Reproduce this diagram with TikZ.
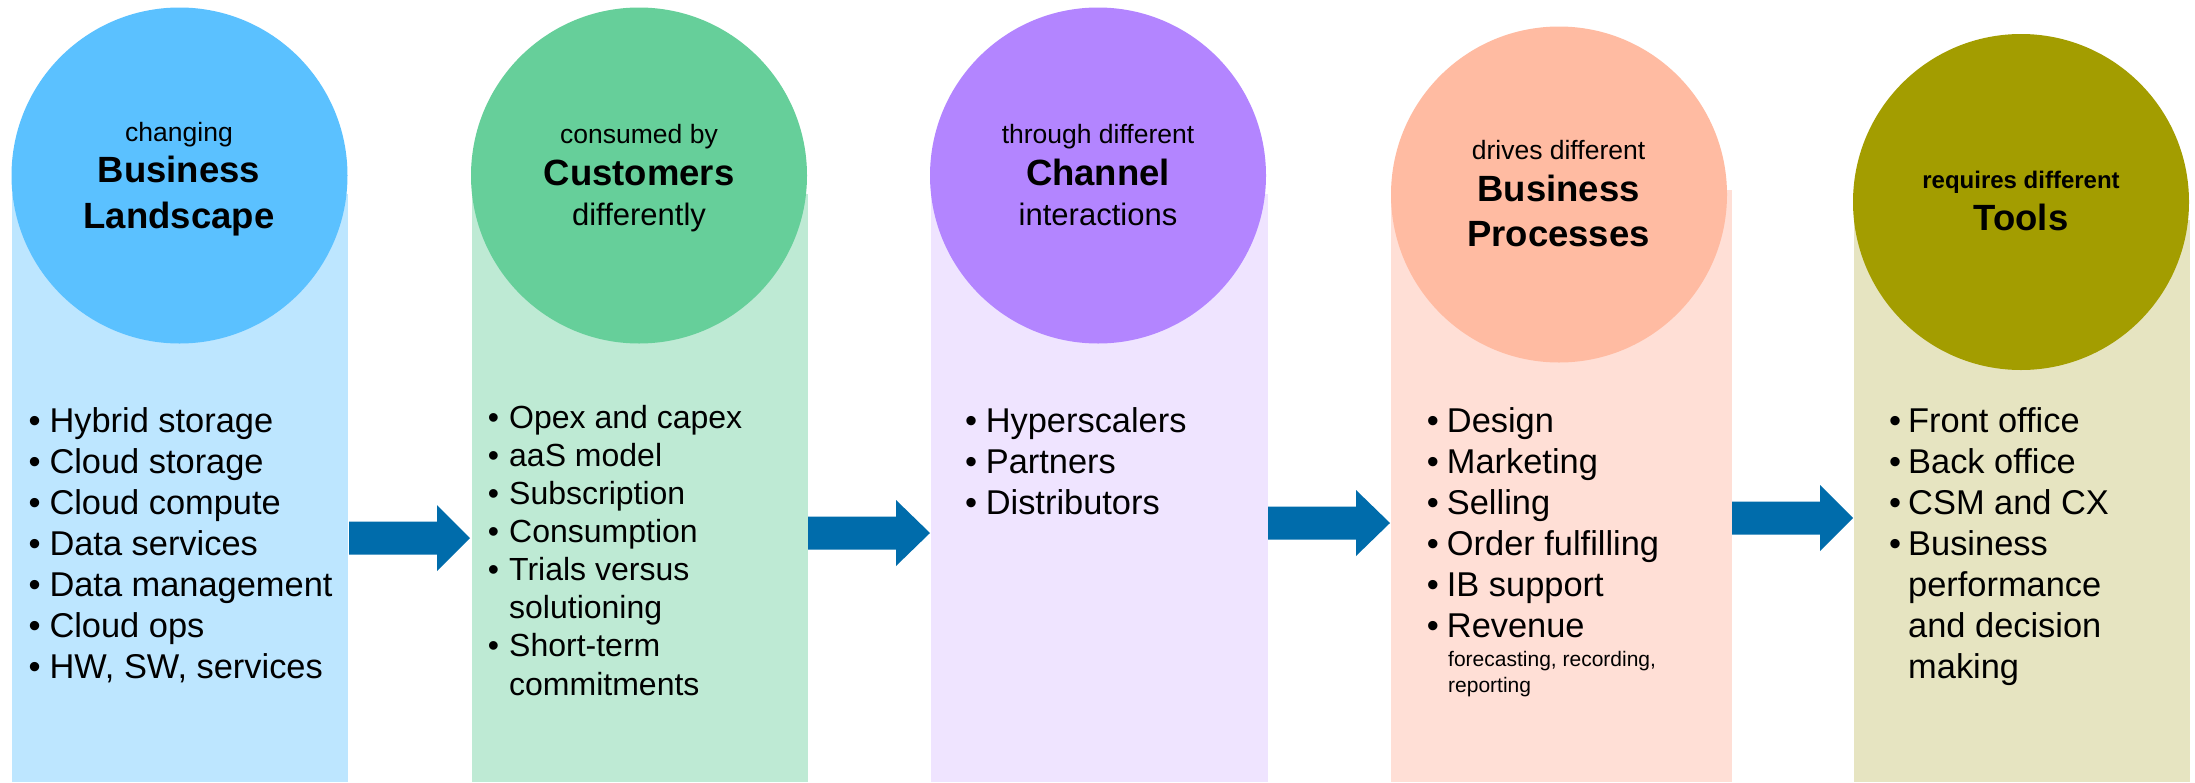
\documentclass[tikz,border=0pt]{standalone}
\usepackage{fontspec}
\setmainfont{Liberation Sans}
\definecolor{circA}{HTML}{5BC1FF}
\definecolor{boxA}{HTML}{BDE6FF}
\definecolor{circB}{HTML}{66CF9A}
\definecolor{boxB}{HTML}{BEEAD4}
\definecolor{circC}{HTML}{B385FF}
\definecolor{boxC}{HTML}{EFE4FF}
\definecolor{circD}{HTML}{FFBBA2}
\definecolor{boxD}{HTML}{FFDFD6}
\definecolor{circE}{HTML}{A39D00}
\definecolor{boxE}{HTML}{E6E4C1}
\definecolor{arrowc}{HTML}{006CAB}
\newcommand\blkarrow[4]{% x start, x head, x tip, y centre
  \fill[arrowc] (#1,#4-16.5) -- (#2,#4-16.5) -- (#2,#4-33) -- (#3,#4)
    -- (#2,#4+33) -- (#2,#4+16.5) -- (#1,#4+16.5) -- cycle;}
\begin{document}
\begin{tikzpicture}[x=1pt,y=-1pt,
  colbox/.style={rectangle, inner sep=0pt, minimum width=336pt, minimum height=588pt, anchor=north west, draw=none},
  headcirc/.style={circle, inner sep=0pt, minimum size=336pt, draw=none},
  txt/.style={inner sep=0pt, text=black},
  small/.style={txt, anchor=base, font=\fontsize{26.5}{30}\selectfont},
  mid/.style={txt, anchor=base, font=\fontsize{31}{36}\selectfont},
  big/.style={txt, anchor=base, font=\fontsize{36.5}{42}\selectfont\bfseries},
  smallbold/.style={txt, anchor=base, font=\fontsize{24}{28}\selectfont\bfseries},
  item/.style={txt, anchor=base west, font=\fontsize{34.4}{41}\selectfont},
  itemb/.style={txt, anchor=base west, font=\fontsize{32}{38}\selectfont},
  note/.style={txt, anchor=base west, font=\fontsize{21}{26}\selectfont}]
\useasboundingbox (0,0) rectangle (2195,782);
\fill[white] (0,0) rectangle (2195,782);

% column boxes
\node[colbox, fill=boxA] (boxA) at (12,194) {};
\node[colbox, fill=boxB] (boxB) at (472,194) {};
\node[colbox, fill=boxC, minimum width=337pt] (boxC) at (931,194) {};
\node[colbox, fill=boxD, minimum width=341pt, minimum height=592pt] (boxD) at (1391,190) {};
\node[colbox, fill=boxE, minimum height=562pt] (boxE) at (1854,220) {};

% head circles
\node[headcirc, fill=circA] (circA) at (179.5,175.5) {};
\node[headcirc, fill=circB] (circB) at (639,175.5) {};
\node[headcirc, fill=circC] (circC) at (1098,175.5) {};
\node[headcirc, fill=circD] (circD) at (1559,194.5) {};
\node[headcirc, fill=circE] (circE) at (2021,202) {};

% arrows
\blkarrow{349}{437}{470}{538}
\blkarrow{808}{896}{930}{533}
\blkarrow{1268}{1356}{1390}{523}
\blkarrow{1732}{1820}{1853}{518}

% headings
\node[small] (hA1) at (179,141.7) {changing};
\node[big]   (hA2) at (179,182.7) {Business};
\node[big]   (hA3) at (179,228.3) {Landscape};

\node[small] (hB1) at (639,143.3) {consumed by};
\node[big]   (hB2) at (639,185.7) {Customers};
\node[mid]   (hB3) at (639,225) {differently};

\node[small] (hC1) at (1098,143.3) {through different};
\node[big]   (hC2) at (1098,185.7) {Channel};
\node[mid]   (hC3) at (1098,225) {interactions};

\node[small] (hD1) at (1558.5,159.3) {drives different};
\node[big]   (hD2) at (1558.5,201) {Business};
\node[big]   (hD3) at (1558.5,246.7) {Processes};

\node[smallbold] (hE1) at (2021,188.7) {requires different};
\node[big]       (hE2) at (2021,230) {Tools};

% column A items
\node[item] (aB1) at (28.3,432) {•};  \node[item] (aT1) at (49.3,432) {Hybrid storage};
\node[item] (aB2) at (28.3,473) {•};  \node[item] (aT2) at (49.3,473) {Cloud storage};
\node[item] (aB3) at (28.3,514) {•};  \node[item] (aT3) at (49.3,514) {Cloud compute};
\node[item] (aB4) at (28.3,555) {•};  \node[item] (aT4) at (49.3,555) {Data services};
\node[item] (aB5) at (28.3,596) {•};  \node[item] (aT5) at (49.3,596) {Data management};
\node[item] (aB6) at (28.3,637) {•};  \node[item] (aT6) at (49.3,637) {Cloud ops};
\node[item] (aB7) at (28.3,678) {•};  \node[item] (aT7) at (49.3,678) {HW, SW, services};

% column B items
\node[itemb] (bB1) at (487.7,428.3) {•}; \node[itemb] (bT1) at (509,428.3) {Opex and capex};
\node[itemb] (bB2) at (487.7,466.4) {•}; \node[itemb] (bT2) at (509,466.4) {aaS model};
\node[itemb] (bB3) at (487.7,504.5) {•}; \node[itemb] (bT3) at (509,504.5) {Subscription};
\node[itemb] (bB4) at (487.7,542.6) {•}; \node[itemb] (bT4) at (509,542.6) {Consumption};
\node[itemb] (bB5) at (487.7,580.7) {•}; \node[itemb] (bT5) at (509,580.7) {Trials versus};
                                          \node[itemb] (bT6) at (509,618.8) {solutioning};
\node[itemb] (bB7) at (487.7,656.9) {•}; \node[itemb] (bT7) at (509,656.9) {Short-term};
                                          \node[itemb] (bT8) at (509,695) {commitments};

% column C items
\node[item] (cB1) at (965,432) {•}; \node[item] (cT1) at (985.6,432) {Hyperscalers};
\node[item] (cB2) at (965,473) {•}; \node[item] (cT2) at (985.6,473) {Partners};
\node[item] (cB3) at (965,514) {•}; \node[item] (cT3) at (985.6,514) {Distributors};

% column D items
\node[item] (dB1) at (1426.6,432) {•}; \node[item] (dT1) at (1446.7,432) {Design};
\node[item] (dB2) at (1426.6,473) {•}; \node[item] (dT2) at (1446.7,473) {Marketing};
\node[item] (dB3) at (1426.6,514) {•}; \node[item] (dT3) at (1446.7,514) {Selling};
\node[item] (dB4) at (1426.6,555) {•}; \node[item] (dT4) at (1446.7,555) {Order fulfilling};
\node[item] (dB5) at (1426.6,596) {•}; \node[item] (dT5) at (1446.7,596) {IB support};
\node[item] (dB6) at (1426.6,637) {•}; \node[item] (dT6) at (1446.7,637) {Revenue};
\node[note] (dN1) at (1448,666.7) {forecasting, recording,};
\node[note] (dN2) at (1448,692) {reporting};

% column E items
\node[item] (eB1) at (1889,432) {•}; \node[item] (eT1) at (1908,432) {Front office};
\node[item] (eB2) at (1889,473) {•}; \node[item] (eT2) at (1908,473) {Back office};
\node[item] (eB3) at (1889,514) {•}; \node[item] (eT3) at (1908,514) {CSM and CX};
\node[item] (eB4) at (1889,555) {•}; \node[item] (eT4) at (1908,555) {Business};
                                     \node[item] (eT5) at (1908,596) {performance};
                                     \node[item] (eT6) at (1908,637) {and decision};
                                     \node[item] (eT7) at (1908,678) {making};
\end{tikzpicture}
\end{document}
